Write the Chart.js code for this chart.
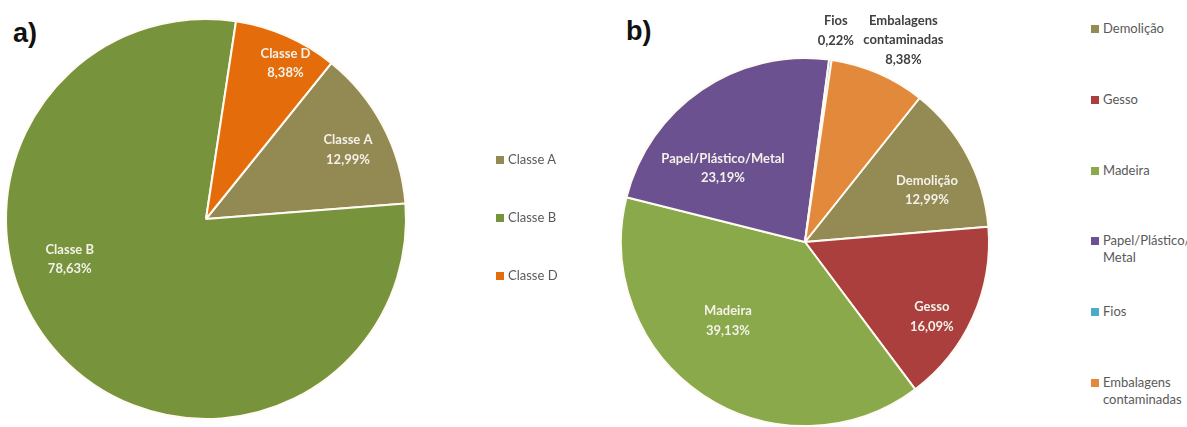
<!DOCTYPE html>
<html>
<head>
<meta charset="utf-8">
<script src="https://cdn.jsdelivr.net/npm/chart.js@4/dist/chart.umd.min.js"></script>
<style>
  body { margin: 0; background: #fff; width: 1187px; height: 427px; overflow: hidden; position: relative; font-family: Lato, "Open Sans", sans-serif; }
  .box { position: absolute; }
  .tag { position: absolute; font: bold 27px "Liberation Sans", Arial, sans-serif; color: #111; }
  .legend { position: absolute; font-size: 13px; color: #595959; }
  .legend .item { position: absolute; left: 0; width: 95px; line-height: 17px; padding-left: 12px; }
  .legend .sw { position: absolute; left: 0; top: 5px; width: 8px; height: 8px; }
</style>
</head>
<body>
<div class="tag" style="left:13px; top:18px;">a)</div>
<div class="tag" style="left:626px; top:16px;">b)</div>
<div class="box" style="left:0; top:0; width:420px; height:427px;"><canvas id="chartA"></canvas></div>
<div class="box" style="left:600px; top:0; width:410px; height:427px;"><canvas id="chartB"></canvas></div>
<div class="legend" id="legendA" style="left:496px; top:0;"></div>
<div class="legend" id="legendB" style="left:1091px; top:0;"></div>
<script>
// dados do gráfico a)
const labelsA = ['Classe A', 'Classe B', 'Classe D'];
const valuesA = [12.99, 78.63, 8.38];
const colorsA = ['#938953', '#77933C', '#E46C0A'];

// dados do gráfico b)
const labelsB = ['Demolição', 'Gesso', 'Madeira', 'Papel/Plástico/Metal', 'Fios', 'Embalagens contaminadas'];
const valuesB = [12.99, 16.09, 39.13, 23.19, 0.22, 8.38];
const colorsB = ['#948A54', '#AA3F3D', '#89A94B', '#6B5190', '#4BACC6', '#E2893B'];

// posição dos rótulos: [ângulo a partir do topo (graus), fração do raio]
const placeA = [[64, 0.79], [253.6, 0.71], [27, 0.875]];
const placeB = [[67, 0.72], [120.5, 0.8], [224.3, 0.6], [312, 0.6], [8.3, 1.16], [26, 1.22]];

function fmt(v) {
    return v.toFixed(2).replace('.', ',') + '%';
}

// plugin simples para escrever nome + percentagem em cada fatia
const sliceLabels = {
    id: 'sliceLabels',
    afterDatasetsDraw(chart, args, opts) {
        const ctx = chart.ctx;
        const meta = chart.getDatasetMeta(0);
        const data = chart.data.datasets[0].data;
        const arc0 = meta.data[0];
        const cx = arc0.x, cy = arc0.y, r = arc0.outerRadius;
        ctx.save();
        ctx.font = 'bold 13px Lato, "Open Sans", sans-serif';
        ctx.textAlign = 'center';
        ctx.textBaseline = 'middle';
        meta.data.forEach((arc, i) => {
            const p = opts.place[i];
            const a = p[0] * Math.PI / 180;
            const x = cx + Math.sin(a) * r * p[1];
            const y = cy - Math.cos(a) * r * p[1];
            const name = chart.data.labels[i];
            let lines = name.length > 20 ? name.split(' ') : [name];
            lines.push(fmt(data[i]));
            const inside = p[1] < 1;
            ctx.fillStyle = inside ? '#F4F1EA' : '#404040';
            const lh = 19.5;
            const y0 = y - (lines.length - 1) * lh / 2;
            lines.forEach((t, k) => ctx.fillText(t, x, y0 + k * lh));
        });
        ctx.restore();
    }
};

function makePie(id, labels, values, colors, rotation, padding, place) {
    return new Chart(document.getElementById(id), {
        type: 'pie',
        data: {
            labels: labels,
            datasets: [{
                data: values,
                backgroundColor: colors,
                borderColor: '#FFFAF2',
                borderWidth: 2
            }]
        },
        options: {
            responsive: true,
            maintainAspectRatio: false,
            animation: false,
            rotation: rotation,
            layout: { padding: padding },
            plugins: {
                legend: { display: false },
                tooltip: { enabled: false },
                sliceLabels: { place: place }
            }
        },
        plugins: [sliceLabels]
    });
}

makePie('chartA', labelsA, valuesA, colorsA, 38.8, { left: 5, right: 13, top: 17, bottom: 6 }, placeA);
makePie('chartB', labelsB, valuesB, colorsB, 38.5, { left: 20, right: 20, top: 57, bottom: 0 }, placeB);

// legendas em HTML
function buildLegend(elId, labels, colors, top, step) {
    const el = document.getElementById(elId);
    labels.forEach((name, i) => {
        const item = document.createElement('div');
        item.className = 'item';
        item.style.top = (top + i * step) + 'px';
        const sw = document.createElement('span');
        sw.className = 'sw';
        sw.style.background = colors[i];
        item.appendChild(sw);
        item.appendChild(document.createTextNode(name.replace(/\//g, '/\u200B')));
        el.appendChild(item);
    });
}

buildLegend('legendA', labelsA, colorsA, 151, 58);
buildLegend('legendB', labelsB, colorsB, 20, 70.8);
</script>
</body>
</html>
